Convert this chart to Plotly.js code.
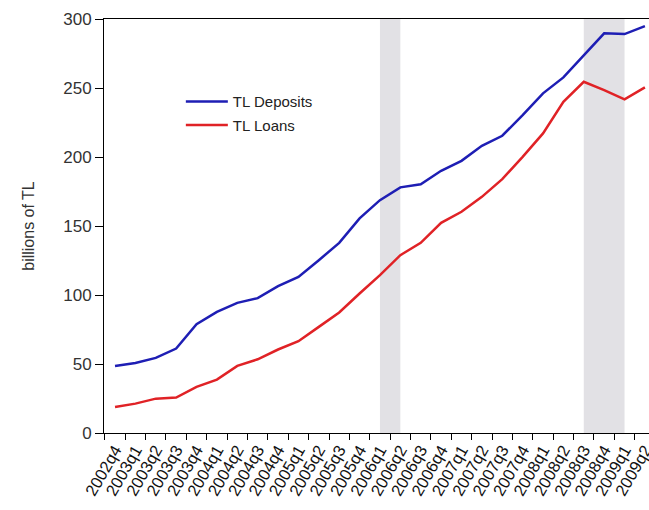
<!DOCTYPE html>
<html>
<head>
<meta charset="utf-8">
<script src="https://cdn.plot.ly/plotly-3.0.1.min.js"></script>
<style>
  html, body { margin: 0; padding: 0; background: #fff; }
  #chart { width: 649px; height: 510px; }
</style>
</head>
<body>
<div id="chart"></div>
<script>
// Quarterly observations, 2002q4 - 2009q2
const quarters = [
  '2002q4',
  '2003q1', '2003q2', '2003q3', '2003q4',
  '2004q1', '2004q2', '2004q3', '2004q4',
  '2005q1', '2005q2', '2005q3', '2005q4',
  '2006q1', '2006q2', '2006q3', '2006q4',
  '2007q1', '2007q2', '2007q3', '2007q4',
  '2008q1', '2008q2', '2008q3', '2008q4',
  '2009q1', '2009q2'
];

// TL deposits, billions of TL
const deposits = [
  48.6, 50.8, 54.4, 61.2, 78.8,
  87.7, 94.3, 97.7, 106.4,
  113.1, 125.2, 137.8, 155.5,
  168.7, 178.0, 180.3, 190.0,
  197.2, 208.1, 215.4, 230.4,
  246.1, 257.7, 273.7, 289.6,
  289.1, 294.9
];

// TL loans, billions of TL
const loans = [
  18.9, 21.3, 24.9, 25.7, 33.4,
  38.7, 48.6, 53.4, 60.5,
  66.5, 76.9, 87.3, 101.1,
  114.4, 128.9, 137.8, 152.3,
  160.3, 171.1, 184.0, 200.1,
  217.1, 240.0, 254.5, 248.5,
  241.8, 250.5
];

// Shaded periods (start / end quarter)
const shadeStart = ['2006q1', '2008q3'];
const shadeEnd   = ['2006q2', '2009q1'];

const font = 'Liberation Sans, Arial, sans-serif';

const traces = [
  {
    x: quarters, y: deposits, type: 'scatter', mode: 'lines',
    name: 'TL Deposits', legendgroup: 'dep',
    line: { color: '#1e1eb4', width: 2.5 }
  },
  {
    x: quarters, y: loans, type: 'scatter', mode: 'lines',
    name: 'TL Loans', legendgroup: 'loan',
    line: { color: '#e02226', width: 2.5 }
  }
];

const shapes = shadeStart.map((s, i) => ({
  type: 'rect', xref: 'x', yref: 'paper',
  x0: s, x1: shadeEnd[i], y0: 0, y1: 1,
  fillcolor: '#e2e1e5', line: { width: 0 }, layer: 'below'
}));

const layout = {
  width: 649, height: 510,
  margin: { l: 104, r: 0, t: 19, b: 77 },
  paper_bgcolor: '#ffffff', plot_bgcolor: '#ffffff',
  font: { family: font, size: 14, color: '#222' },
  showlegend: true,
  legend: {
    x: 0.141, y: 0.84, xanchor: 'left', yanchor: 'top',
    bgcolor: 'rgba(255,255,255,0.9)', borderwidth: 0,
    font: { family: font, size: 15, color: '#222' },
    traceorder: 'grouped', tracegroupgap: 1,
    itemwidth: 42
  },
  xaxis: {
    type: 'category',
    range: [-0.54, 26.2],
    tickmode: 'linear', tick0: 0, dtick: 1,
    tickson: 'boundaries',
    ticks: 'outside', ticklen: 6, tickcolor: '#000', tickwidth: 1,
    tickangle: -60,
    tickfont: { family: font, size: 16.5, color: '#111' },
    showline: true, linecolor: '#000', linewidth: 1, mirror: true,
    showgrid: false, zeroline: false, fixedrange: true
  },
  yaxis: {
    range: [0, 300],
    tickvals: [0, 50, 100, 150, 200, 250, 300],
    ticks: 'outside', ticklen: 8, tickcolor: '#000', tickwidth: 1,
    tickfont: { family: font, size: 17, color: '#333' },
    showline: true, linecolor: '#000', linewidth: 1, mirror: false,
    showgrid: false, zeroline: false, fixedrange: true,
    title: { text: 'billions of TL', font: { family: font, size: 16, color: '#333' }, standoff: 24 }
  },
  shapes: shapes
};

Plotly.newPlot('chart', traces, layout, { displayModeBar: false, staticPlot: true });
</script>
</body>
</html>
